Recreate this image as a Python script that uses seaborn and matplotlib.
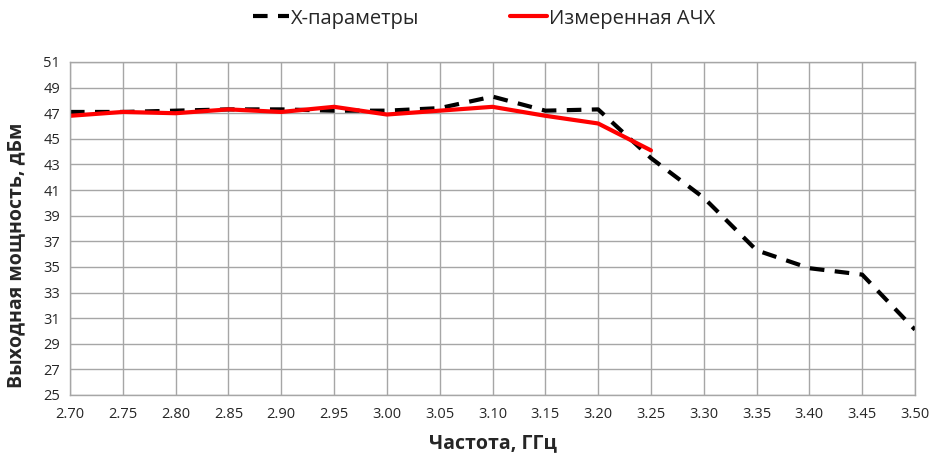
import matplotlib
matplotlib.use("Agg")
import matplotlib.pyplot as plt
import seaborn as sns
import pandas as pd
import numpy as np

freq_x = [2.70, 2.75, 2.80, 2.85, 2.90, 2.95, 3.00, 3.05, 3.10, 3.15, 3.20, 3.25, 3.30, 3.35, 3.40, 3.45, 3.50]
power_x = [47.1, 47.1, 47.2, 47.3, 47.3, 47.2, 47.2, 47.4, 48.3, 47.2, 47.3, 43.5, 40.4, 36.3, 34.9, 34.4, 30.1]
freq_m = [2.70, 2.75, 2.80, 2.85, 2.90, 2.95, 3.00, 3.05, 3.10, 3.15, 3.20, 3.25]
power_m = [46.8, 47.1, 47.0, 47.3, 47.1, 47.5, 46.9, 47.2, 47.5, 46.8, 46.2, 44.1]
label_x = "X-параметры"
label_m = "Измеренная АЧХ"
xticks = [2.70, 2.75, 2.80, 2.85, 2.90, 2.95, 3.00, 3.05, 3.10, 3.15, 3.20, 3.25, 3.30, 3.35, 3.40, 3.45, 3.50]
yticks = list(range(25, 52, 2))

sns.set_style("white")
plt.rcParams['font.family'] = ['Open Sans', 'DejaVu Sans']

fig = plt.figure(figsize=(9.3, 4.54), dpi=100)
ax = fig.add_axes([70/930, 1 - 395/454, 845/930, 333/454])

df_x = pd.DataFrame({"f": freq_x, "p": power_x})
df_m = pd.DataFrame({"f": freq_m, "p": power_m})
sns.lineplot(data=df_x, x="f", y="p", ax=ax, color="black", linewidth=3,
             dashes=False, label=label_x)
ax.lines[-1].set_dashes([3.5, 2.5])
sns.lineplot(data=df_m, x="f", y="p", ax=ax, color="#ff0000", linewidth=3, label=label_m)

ax.set_xlim(2.70, 3.50)
ax.set_ylim(25, 51)
ax.set_xticks(xticks)
ax.set_xticklabels([f"{v:.2f}" for v in xticks], fontsize=10.5)
ax.set_yticks(yticks)
ax.set_yticklabels([str(v) for v in yticks], fontsize=10.5)
ax.grid(True, color="#a6a6a6", linewidth=1)
for s in ax.spines.values():
    s.set_color("#a6a6a6")
    s.set_linewidth(1)
ax.tick_params(axis="x", length=0, pad=9)
ax.tick_params(axis="y", length=0, pad=7)
ax.set_xlabel("Частота, ГГц", fontsize=14, fontweight="bold", labelpad=8)
ax.set_ylabel("Выходная мощность, дБм", fontsize=14, fontweight="bold")
ax.yaxis.set_label_coords(-0.052, 0.42)

leg = ax.legend(loc="upper center", bbox_to_anchor=(0.49, 1.215), ncol=2, frameon=False,
                fontsize=14.5, handlelength=1.8, handletextpad=0.1, columnspacing=4.5)

fig.savefig("out.png", dpi=100)
